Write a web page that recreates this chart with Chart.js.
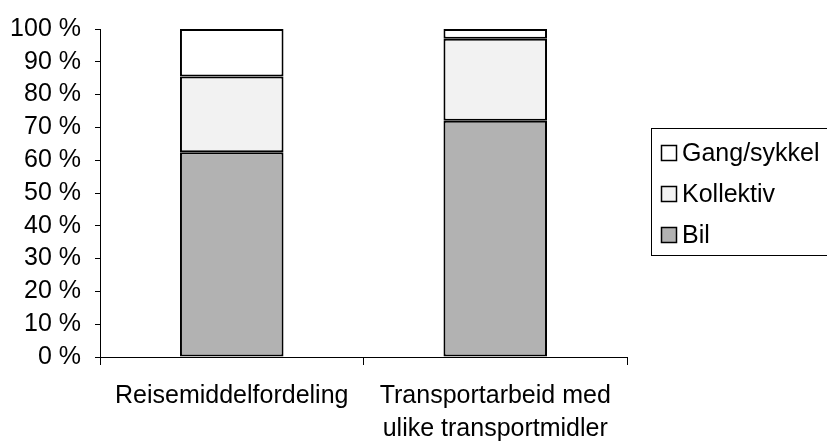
<!DOCTYPE html>
<html>
<head>
<meta charset="utf-8">
<script src="https://cdn.jsdelivr.net/npm/chart.js@4/dist/chart.umd.min.js"></script>
<style>
  html, body { margin: 0; padding: 0; background: #fff; }
  #wrap { width: 827px; height: 442px; }
</style>
</head>
<body>
<div id="wrap"><canvas id="c" width="827" height="442"></canvas></div>
<script>
// Andel (%) per transportmiddel
const categories = [
  ["Reisemiddelfordeling"],
  ["Transportarbeid med", "ulike transportmidler"]
];
const bil = [62.4, 72.0];
const kollektiv = [23.1, 25.0];
const gangSykkel = [14.5, 3.0];
const yTicks = [0, 10, 20, 30, 40, 50, 60, 70, 80, 90, 100];

const FONT = "'Liberation Sans', Arial, sans-serif";
const FSIZE = 25;

// Boxed legend on the right, listing the series top to bottom
const boxLegend = {
  id: 'boxLegend',
  afterDraw(chart) {
    const ctx = chart.ctx;
    ctx.save();
    ctx.strokeStyle = '#000';
    ctx.lineWidth = 1;
    ctx.strokeRect(651.5, 128.5, 190, 127);
    const items = chart.data.datasets.slice().reverse();
    const ys = [153, 194, 235];
    ctx.font = FSIZE + 'px ' + FONT;
    ctx.textBaseline = 'middle';
    ctx.textAlign = 'left';
    items.forEach((ds, i) => {
      const y = ys[i];
      ctx.fillStyle = ds.backgroundColor;
      ctx.fillRect(661.5, y - 7.5, 15, 15);
      ctx.strokeStyle = '#000';
      ctx.lineWidth = 1.5;
      ctx.strokeRect(661.5, y - 7.5, 15, 15);
      ctx.fillStyle = '#000';
      ctx.fillText(ds.label, 682, y + 1);
    });
    ctx.restore();
  }
};

new Chart(document.getElementById('c'), {
  type: 'bar',
  data: {
    labels: categories,
    datasets: [
      { label: 'Bil', data: bil, backgroundColor: '#b2b2b2' },
      { label: 'Kollektiv', data: kollektiv, backgroundColor: '#f2f2f2' },
      { label: 'Gang/sykkel', data: gangSykkel, backgroundColor: '#ffffff' }
    ].map(d => Object.assign(d, {
      borderColor: '#000', borderWidth: 2, borderSkipped: false,
      categoryPercentage: 0.393, barPercentage: 1
    }))
  },
  options: {
    responsive: false,
    animation: false,
    layout: { padding: { left: 0, right: 200, top: 29, bottom: 0 } },
    plugins: { legend: { display: false }, tooltip: { enabled: false } },
    scales: {
      x: {
        stacked: true,
        grid: { display: true, drawOnChartArea: false, color: '#000', tickLength: 8, offset: true },
        border: { color: '#000', width: 1 },
        ticks: { color: '#000', font: { family: FONT, size: FSIZE, lineHeight: 1.3 }, padding: 15, maxRotation: 0, autoSkip: false },
        afterFit(s) { s.height = 85; }
      },
      y: {
        stacked: true,
        min: 0, max: 100,
        afterBuildTicks(s) { s.ticks = yTicks.map(v => ({ value: v })); },
        grid: { display: true, drawOnChartArea: false, color: '#000', tickLength: 5 },
        border: { color: '#000', width: 1 },
        ticks: { color: '#000', font: { family: FONT, size: FSIZE }, padding: 14, autoSkip: false,
                 callback: v => v + ' %' },
        afterFit(s) { s.width = 100; }
      }
    }
  },
  plugins: [boxLegend]
});
</script>
</body>
</html>
